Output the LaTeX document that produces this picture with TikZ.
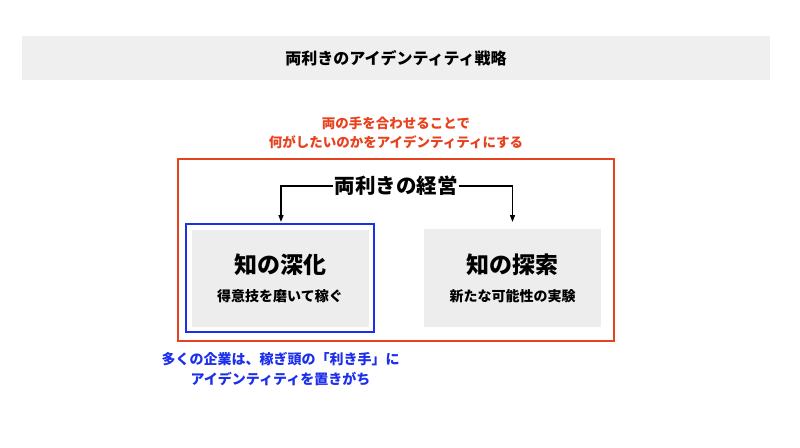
\documentclass[tikz,border=0pt]{standalone}
\usepackage{fontspec}
\setmainfont{Noto Sans CJK JP}
\usepackage{tikz}
\usetikzlibrary{arrows.meta,positioning}
\definecolor{redline}{HTML}{E8411E}
\definecolor{blueline}{HTML}{1C2FEB}
\definecolor{boxgray}{HTML}{EDEDED}
\definecolor{bargray}{HTML}{EFEFF0}

\begin{document}
\begin{tikzpicture}[x=1pt,y=-1pt]
\useasboundingbox (0,0) rectangle (800,447);
\node[rectangle,fill=bargray,minimum width=748pt,minimum height=44pt,inner sep=0pt,font=\fontsize{16}{18}\selectfont\bfseries] (title) at (396,58) {両利きのアイデンティティ戦略};
\node[align=center,text=redline,font=\fontsize{13.5}{19}\selectfont\bfseries] (goal) at (396,132.5) {両の手を合わせることで\\何がしたいのかをアイデンティティにする};
\node[rectangle,draw=redline,line width=2pt,minimum width=436pt,minimum height=182pt,inner sep=0pt] (frame) at (396,249.5) {};
\node[font=\fontsize{20.5}{22}\selectfont\bfseries,inner sep=1pt] (mgmt) at (396,186) {両利きの経営};
\node[rectangle,draw=blueline,line width=2pt,minimum width=188pt,minimum height=108pt,inner sep=0pt] (focus) at (280,278) {};
\node[rectangle,fill=boxgray,minimum width=177pt,minimum height=97pt,align=center,inner sep=0pt,font=\fontsize{23}{32}\selectfont\bfseries] (deep) at (280,278) {知の深化\\[-4pt]{\fontsize{14}{16}\selectfont 得意技を磨いて稼ぐ}};
\node[rectangle,fill=boxgray,minimum width=177pt,minimum height=98pt,align=center,inner sep=0pt,font=\fontsize{23}{32}\selectfont\bfseries] (explore) at (512.5,278) {知の探索\\[-4pt]{\fontsize{14}{16}\selectfont 新たな可能性の実験}};
\coordinate (ltip) at (281,222);
\coordinate (rtip) at (512.5,222);
\draw[-{Triangle[length=7pt,width=5pt]},line width=1.3pt] (mgmt.west) -| (ltip);
\draw[-{Triangle[length=7pt,width=5pt]},line width=1.3pt] (mgmt.east) -| (rtip);
\node[align=center,text=blueline,font=\fontsize{14}{20}\selectfont\bfseries] (note) at (280.5,369) {多くの企業は、稼ぎ頭の「利き手」に\\アイデンティティを置きがち};
\end{tikzpicture}
\end{document}
